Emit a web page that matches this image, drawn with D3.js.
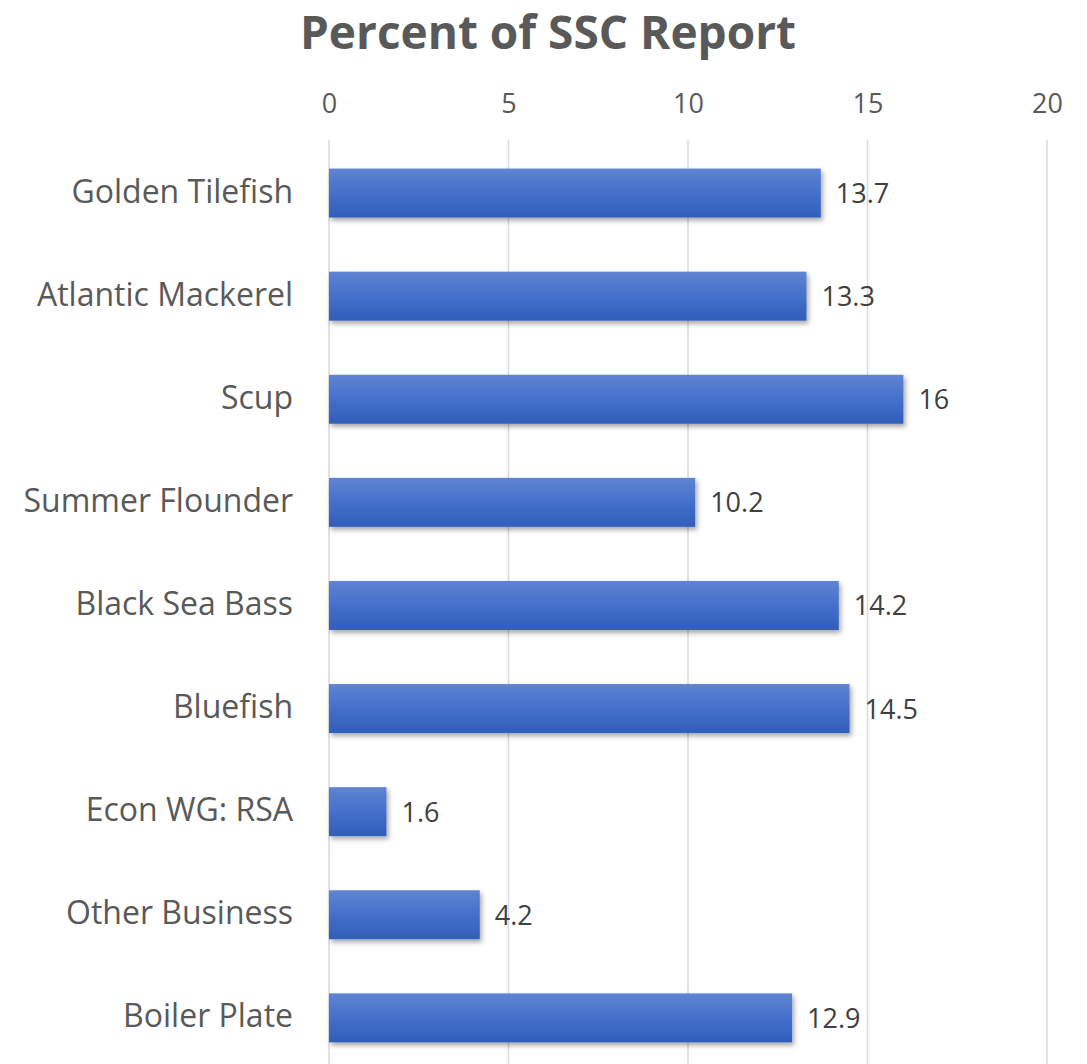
<!DOCTYPE html>
<html><head><meta charset="utf-8">
<script src="https://cdn.jsdelivr.net/npm/d3@7"></script>
<style>body{margin:0;background:#fff}svg{display:block}</style>
</head><body><svg id="c" width="1087" height="1064"></svg>
<script>
const categories = ["Golden Tilefish","Atlantic Mackerel","Scup","Summer Flounder","Black Sea Bass","Bluefish","Econ WG: RSA","Other Business","Boiler Plate"];
const values = [13.7,13.3,16,10.2,14.2,14.5,1.6,4.2,12.9];
const tickValues = [0,5,10,15,20];
const title = "Percent of SSC Report";

const svg = d3.select("#c");
const font = "'Open Sans', sans-serif";
const x = d3.scaleLinear().domain([0,20]).range([329,1047]);
const y = d3.scaleBand().domain(categories).range([141.5,1069.4]).paddingInner(0.525).paddingOuter(0.2625);

const defs = svg.append("defs");
const g = defs.append("linearGradient").attr("id","bg").attr("x1",0).attr("y1",0).attr("x2",0).attr("y2",1);
g.append("stop").attr("offset","0%").attr("stop-color","#5f84d2");
g.append("stop").attr("offset","50%").attr("stop-color","#4470cb");
g.append("stop").attr("offset","100%").attr("stop-color","#2f5eb9");
const f = defs.append("filter").attr("id","sh").attr("x","-10%").attr("y","-20%").attr("width","130%").attr("height","160%");
f.append("feDropShadow").attr("dx",2).attr("dy",3).attr("stdDeviation",2.5).attr("flood-color","#000").attr("flood-opacity",0.35);

svg.append("text").attr("x",548).attr("y",49).attr("text-anchor","middle")
  .attr("font-family",font).attr("font-weight",700).attr("font-size",46).attr("fill","#595959").text(title);

// grid
svg.append("g").selectAll("line").data(tickValues).join("line")
  .attr("x1",d=>x(d)).attr("x2",d=>x(d)).attr("y1",140).attr("y2",1064)
  .attr("stroke","#d9d9d9").attr("stroke-width",1.5);

// top axis labels
const ax = svg.append("g").attr("transform","translate(0,113)").call(d3.axisTop(x).tickValues(tickValues).tickSize(0).tickPadding(0));
ax.select(".domain").remove();
ax.selectAll("text").attr("font-family",font).attr("font-size",27).attr("fill","#595959");

// category axis
const ay = svg.append("g").attr("transform","translate(293,0)").call(d3.axisLeft(y).tickSize(0).tickPadding(0));
ay.select(".domain").remove();
ay.selectAll("text").attr("font-family",font).attr("font-size",32).attr("fill","#595959").attr("dy","0.3em");

// bars
svg.append("g").selectAll("rect").data(values).join("rect")
  .attr("x",x(0)).attr("y",(d,i)=>y(categories[i])).attr("width",d=>x(d)-x(0)).attr("height",y.bandwidth())
  .attr("fill","url(#bg)").attr("filter","url(#sh)");

// value labels
svg.append("g").selectAll("text").data(values).join("text")
  .attr("x",d=>x(d)+15).attr("y",(d,i)=>y(categories[i])+y.bandwidth()/2).attr("dy","0.37em")
  .attr("font-family",font).attr("font-size",27).attr("fill","#404040").text(d=>d);
</script></body></html>
